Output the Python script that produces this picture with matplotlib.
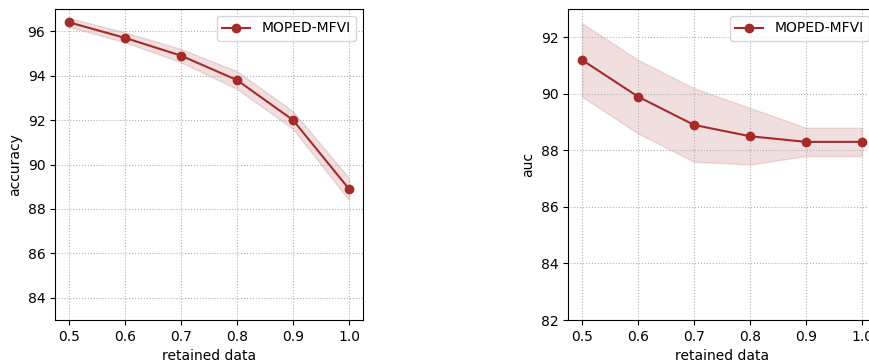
import matplotlib
matplotlib.use("Agg")
import matplotlib.pyplot as plt

retained = [0.5, 0.6, 0.7, 0.8, 0.9, 1.0]
acc_mean = [96.4, 95.7, 94.9, 93.8, 92.0, 88.9]
acc_low = [96.2, 95.5, 94.6, 93.4, 91.6, 88.4]
acc_high = [96.6, 95.95, 95.2, 94.2, 92.4, 89.4]
auc_mean = [91.2, 89.9, 88.9, 88.5, 88.3, 88.3]
auc_low = [89.9, 88.6, 87.6, 87.5, 87.8, 87.8]
auc_high = [92.5, 91.2, 90.2, 89.5, 88.8, 88.8]
label = "MOPED-MFVI"
color = "#a52a2a"

fig = plt.figure(figsize=(8.7, 3.63), dpi=100)
W, H = 870, 363
ax1 = fig.add_axes([55 / W, 43 / H, 308 / W, 277 / H + 34 / H])
ax2 = fig.add_axes([568 / W, 43 / H, 308 / W, 277 / H + 34 / H])

for ax, m, lo, hi, yl, ylim in [
    (ax1, acc_mean, acc_low, acc_high, "accuracy", (83, 97)),
    (ax2, auc_mean, auc_low, auc_high, "auc", (82, 93)),
]:
    ax.fill_between(retained, lo, hi, color=color, alpha=0.15, linewidth=1)
    ax.plot(retained, m, color=color, marker="o", markersize=6, linewidth=1.5, label=label)
    ax.set_ylim(*ylim)
    ax.set_xlim(0.475, 1.025)
    ax.set_xticks(retained)
    ax.set_xticklabels(["0.5", "0.6", "0.7", "0.8", "0.9", "1.0"])
    ax.grid(True, linestyle=":", color="#b0b0b0", linewidth=0.8)
    ax.set_xlabel("retained data")
    ax.set_ylabel(yl)
    ax.legend(loc="upper right")

fig.savefig("out.png", dpi=100)
